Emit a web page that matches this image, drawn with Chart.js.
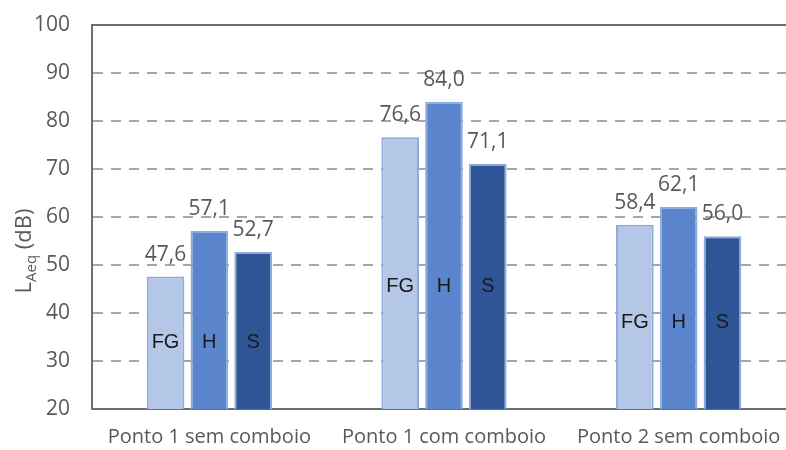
<!DOCTYPE html>
<html>
<head>
<meta charset="utf-8">
<script src="https://cdn.jsdelivr.net/npm/chart.js@4.4.0/dist/chart.umd.min.js"></script>
<style>
  html, body { margin: 0; padding: 0; background: #fff; overflow: hidden; }
  #wrap { position: absolute; left: 0; top: 0; width: 800px; height: 450px; }
</style>
</head>
<body>
<div id="wrap"><canvas id="myChart" width="800" height="450"></canvas></div>
<script>
// categorias e series
var pontos = ["Ponto 1 sem comboio", "Ponto 1 com comboio", "Ponto 2 sem comboio"];
var fgValores = [47.6, 76.6, 58.4];
var hValores = [57.1, 84.0, 62.1];
var sValores = [52.7, 71.1, 56.0];
var seriesNomes = ["FG", "H", "S"];
var yTicks = [20, 30, 40, 50, 60, 70, 80, 90, 100];

var cinza = "#595959";
var fonte = "'Open Sans', 'Liberation Sans', sans-serif";

// rótulos: valor em cima, nome da série dentro da barra
var rotulosPlugin = {
  id: "rotulos",
  afterDatasetsDraw: function (chart) {
    var ctx = chart.ctx;
    var y = chart.scales.y;
    ctx.save();
    chart.data.datasets.forEach(function (ds, di) {
      var meta = chart.getDatasetMeta(di);
      meta.data.forEach(function (bar, i) {
        // valor
        ctx.font = "21px " + fonte;
        ctx.fillStyle = cinza;
        ctx.textAlign = "center";
        ctx.textBaseline = "alphabetic";
        ctx.fillText(ds.data[i].toFixed(1).replace(".", ","), bar.x, bar.y - 16);
        // nome da serie, centrado na barra mais baixa do grupo
        var minimo = Math.min(fgValores[i], hValores[i], sValores[i]);
        var yc = y.getPixelForValue((minimo + y.min) / 2);
        ctx.font = "20px 'Liberation Sans', Arial, sans-serif";
        ctx.fillStyle = "#1a1a1a";
        ctx.textBaseline = "middle";
        ctx.fillText(seriesNomes[di], bar.x, yc);
      });
    });
    ctx.restore();
  }
};

// moldura superior e título do eixo y com índice
var molduraPlugin = {
  id: "moldura",
  afterDraw: function (chart) {
    var ctx = chart.ctx;
    var a = chart.chartArea;
    ctx.save();
    ctx.strokeStyle = "#6e6e6e";
    ctx.lineWidth = 2;
    ctx.beginPath();
    ctx.moveTo(a.left, a.top);
    ctx.lineTo(a.right, a.top);
    ctx.stroke();

    // L_Aeq (dB)
    ctx.translate(25, 251);
    ctx.rotate(-Math.PI / 2);
    ctx.fillStyle = cinza;
    ctx.textBaseline = "middle";
    ctx.textAlign = "left";
    var grande = "22px " + fonte;
    var pequeno = "15px " + fonte;
    ctx.font = grande;
    var wL = ctx.measureText("L").width;
    var wR = ctx.measureText(" (dB)").width;
    ctx.font = pequeno;
    var wS = ctx.measureText("Aeq").width;
    var x0 = -(wL + wS + wR) / 2;
    ctx.font = grande;
    ctx.fillText("L", x0, 0);
    ctx.font = pequeno;
    ctx.fillText("Aeq", x0 + wL, 7);
    ctx.font = grande;
    ctx.fillText(" (dB)", x0 + wL + wS, 0);
    ctx.restore();
  }
};

var comum = { borderColor: "#8FAADC", borderWidth: 2, borderSkipped: false,
  categoryPercentage: 0.56, barPercentage: 0.86 };

new Chart("myChart", {
  type: "bar",
  data: {
    labels: pontos,
    datasets: [
      Object.assign({ label: seriesNomes[0], data: fgValores, backgroundColor: "#B4C7E7" }, comum),
      Object.assign({ label: seriesNomes[1], data: hValores, backgroundColor: "#5B86CD" }, comum),
      Object.assign({ label: seriesNomes[2], data: sValores, backgroundColor: "#2F5597" }, comum)
    ]
  },
  options: {
    responsive: false,
    animation: false,
    layout: { padding: { top: 25, right: 4, left: 0, bottom: 0 } },
    plugins: { legend: { display: false }, tooltip: { enabled: false } },
    scales: {
      x: {
        grid: { display: false, drawTicks: false },
        border: { display: true, color: "#6e6e6e", width: 2 },
        ticks: { color: cinza, font: { family: fonte, size: 20 }, padding: 16 },
        afterFit: function (s) { s.height = 41; s.paddingLeft = 0; s.paddingRight = 0; }
      },
      y: {
        min: yTicks[0],
        max: yTicks[yTicks.length - 1],
        afterBuildTicks: function (s) { s.ticks = yTicks.map(function (v) { return { value: v }; }); },
        grid: {
          drawTicks: false,
          color: function (c) {
            return (c.tick.value === yTicks[0] || c.tick.value === yTicks[yTicks.length - 1]) ? "rgba(0,0,0,0)" : "#A6A6A6";
          },
          lineWidth: 2
        },
        border: { display: true, color: "#6e6e6e", width: 2, dash: [10, 8] },
        ticks: { color: cinza, font: { family: fonte, size: 21 }, padding: 22 },
        afterFit: function (s) { s.width = 92; s.paddingTop = 0; s.paddingBottom = 0; }
      }
    }
  },
  plugins: [rotulosPlugin, molduraPlugin]
});
</script>
</body>
</html>
